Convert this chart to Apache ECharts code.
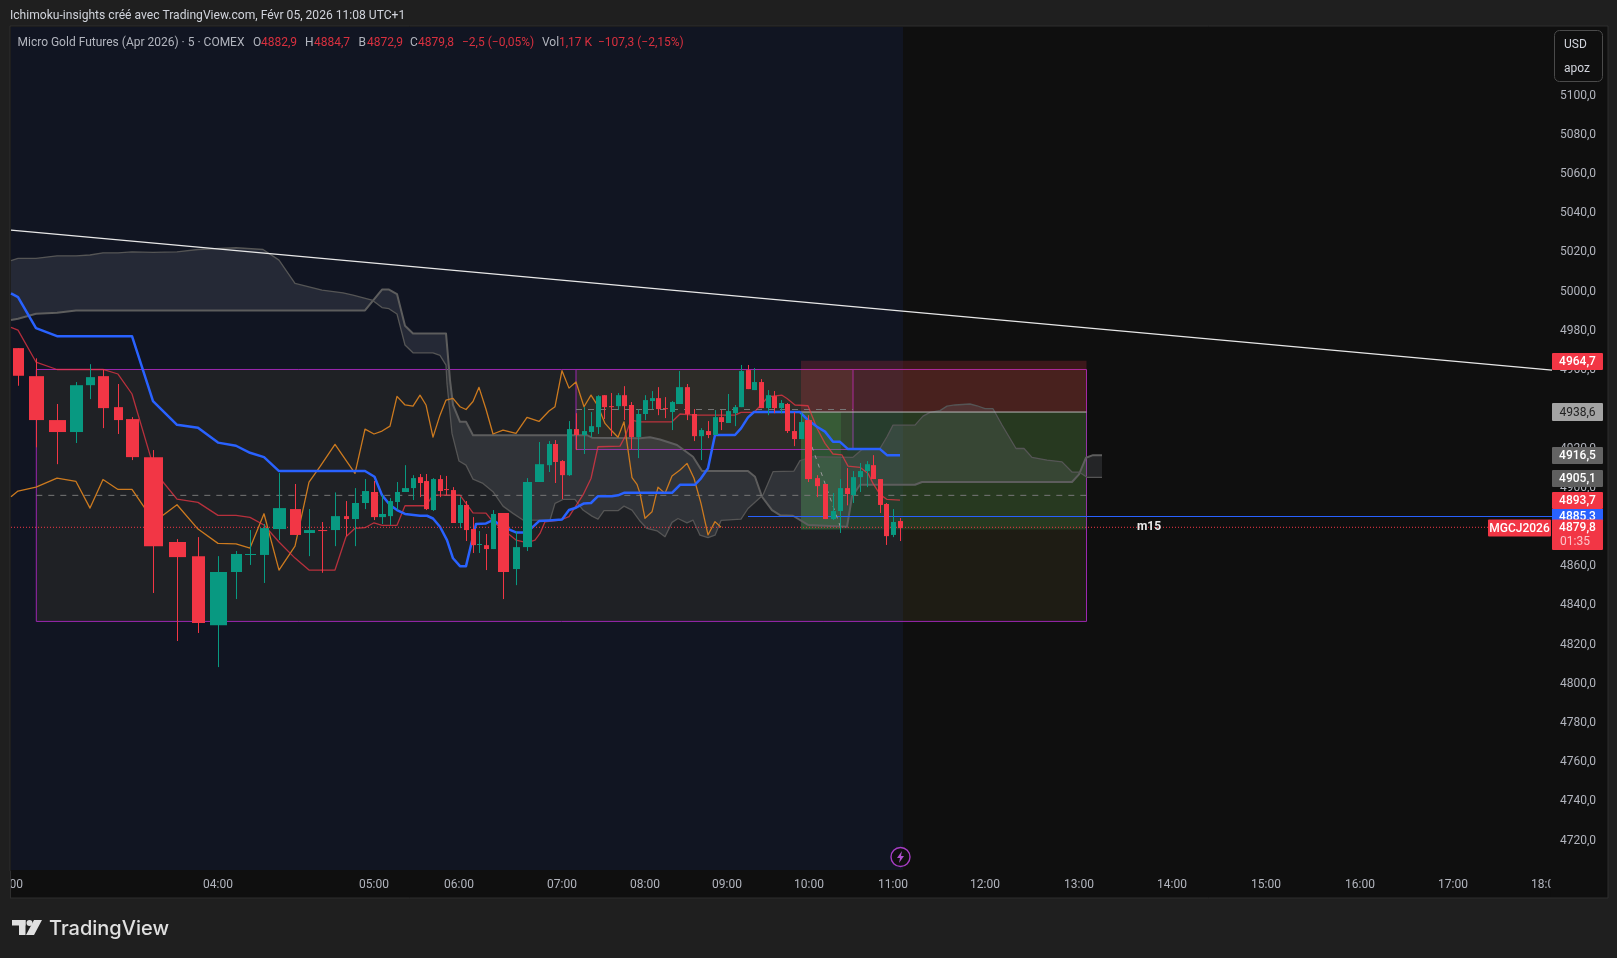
<!DOCTYPE html>
<html><head><meta charset="utf-8">
<style>html,body{margin:0;padding:0;background:#1f1f1f}#c{width:1617px;height:958px}</style>
<script src="https://cdn.jsdelivr.net/npm/echarts@6/dist/echarts.min.js"></script>
</head><body><div id="c"></div>
<script>
// candles: x position on the bar scale, volume-scaled width, open, high, low, close
const candleX=[18.5,36.5,57.5,76.5,90.5,103.5,118.5,132.5,153.5,177.5,198.5,218.5,236.5,250.5,264.5,279.5,295.5,309.5,322.7,335.5,346.5,355.5,365.5,374.5,382.5,390.5,397.5,405.5,413.5,420.5,426.5,433.5,440.5,446.5,453.5,460.5,466.5,473.5,479.5,486.5,493.5,503.5,516.5,527.5,539.5,549.5,555.5,562.5,569.5,576.5,584.5,591.5,598.5,604.5,611.5,618.5,624.5,631.5,638.7,645.5,652.5,658.5,665.5,672.5,679.5,687.5,694.5,701.5,708.5,715.5,721.5,728.5,735.5,741.5,748.5,754.5,761.5,768.5,774.5,781.5,787.5,794.5,801.5,808.5,817.5,825.5,833.5,840.5,847.5,853.5,860.5,867.5,873.5,880.5,886.5,893.5,900.5];
const candleW=[11,15,17,13,9,11,9,13,19,17,13,17,11,11,9,13,11,11,9,9,5,7,7,7,7,5,5,7,5,5,5,5,5,5,5,5,5,5,5,5,5,11,7,9,9,5,5,5,5,5,5,5,5,5,5,5,5,5,5,5,5,5,5,5,7,5,5,5,5,5,5,5,5,5,5,5,5,5,5,5,5,5,5,7,5,5,5,5,5,5,5,5,5,5,5,5,5];
const candleTop=[4971.2,4956.9,4934.5,4952.3,4956.4,4956.9,4941.1,4935,4915.6,4872.3,4865.1,4857,4866.2,4866.2,4879.4,4889.6,4889.1,4878.4,4878.4,4885.5,4885.5,4892.2,4898.3,4897.8,4886.6,4893.2,4897.8,4899.8,4904.9,4905.4,4903.4,4904.4,4904.4,4899.3,4898.8,4891.2,4891.2,4878.9,4871.3,4870.7,4886.6,4887.1,4869.7,4902.9,4912,4922.3,4922.3,4913.6,4929.9,4929.9,4928.9,4931.4,4946.7,4947.2,4941.6,4947.2,4947.2,4942.2,4937.6,4944.7,4945.7,4945.7,4940.6,4943.7,4951.3,4951.3,4937.6,4929.4,4928.9,4936,4936,4939.1,4941.1,4959.5,4960,4953.9,4953.9,4947.2,4946.7,4943.2,4942.7,4928.9,4933.5,4934.5,4904.9,4901.9,4888.1,4899.8,4899.8,4905.4,4908.5,4912,4911.5,4904.4,4891.7,4882.5,4883];
const candleBottom=[4957.1,4934.5,4928.4,4928.4,4952.3,4940.6,4934.5,4915.6,4870.2,4864.6,4831,4829.9,4857,4865.7,4865.7,4878.9,4875.9,4876.9,4878,4878.4,4884,4884,4892.2,4885,4885,4885.5,4892.7,4897.8,4899.8,4902.4,4889.1,4888.6,4898.3,4899,4882,4882,4878.4,4870.7,4870.8,4868.7,4868.7,4857,4858.5,4869.7,4902.9,4911.5,4913.1,4906.4,4906.4,4926.9,4926.9,4928.4,4930.9,4941.1,4941.1,4941.6,4941.6,4925.8,4925.8,4937.6,4944.2,4940.1,4940.1,4938.6,4942.7,4937.6,4926.3,4926.3,4926.9,4926.9,4933.5,4933,4938,4941.1,4950.3,4949.8,4940.6,4940.6,4940.6,4940.6,4928.9,4924.8,4924.8,4904.4,4900.8,4884,4884,4888.1,4896.8,4896.2,4905.4,4908.5,4904.4,4891.2,4875.3,4875.9,4879.4];
const candleHigh=[4971.2,4966,4942.7,4953.9,4963,4960.3,4952.9,4936,4919.2,4873.8,4874.8,4865.1,4867.7,4878.4,4881.5,4907.5,4901.9,4889.1,4882.5,4897.6,4893.2,4899.8,4904.4,4903.4,4896.2,4894.7,4902.9,4911.5,4906.4,4907,4907,4904.9,4906.4,4906,4900.3,4895.2,4893.2,4885,4877.9,4876.4,4888.6,4887.1,4877.9,4904.9,4923.3,4923.8,4924.3,4914.1,4934,4938,4941.1,4938.6,4947.2,4947.2,4948.3,4948.3,4951.8,4943.7,4940,4947.2,4949.3,4951.3,4946.2,4944.2,4959.5,4952.9,4940.1,4930.4,4934,4939.6,4939.6,4947.8,4942.2,4962.6,4962.6,4961,4955.4,4949.8,4949.3,4944.7,4943.2,4938.6,4938,4937,4906.4,4901.9,4897.3,4904.4,4910,4908.5,4912.6,4913.6,4916.6,4904.4,4892.2,4889.1,4884.5];
const candleLow=[4952,4920.6,4912,4922.8,4945.2,4930.4,4927.4,4914.1,4846.3,4821.8,4825.9,4808.5,4843.2,4860.6,4851.4,4873.3,4875.9,4865.1,4856.6,4870.2,4875.3,4870.2,4889.1,4883.5,4881.5,4881,4888.6,4897.8,4893.7,4895.2,4888.6,4888.1,4895.2,4896.2,4882,4879.4,4872.8,4866.7,4866.7,4858,4868.7,4843.2,4850.3,4867.7,4902.9,4908,4902.4,4894.2,4906,4919.2,4917.2,4925.8,4927.4,4935,4926.3,4939.6,4934.5,4919.7,4915.1,4934.5,4940.1,4937,4935.5,4929.4,4942.7,4934.5,4923.8,4914.1,4925.3,4926.9,4929.4,4933,4931.4,4941.1,4950.3,4949.8,4940.6,4937,4938,4938,4927.9,4921.2,4924.8,4902.9,4895.2,4884,4883.5,4876.9,4891,4892.2,4897.8,4900.3,4904.4,4887.1,4870.8,4874.8,4872.8];
const candleUp=[0,0,0,1,1,0,0,0,0,0,0,1,1,1,1,1,0,1,0,1,0,1,1,0,1,1,1,1,1,0,0,1,0,0,0,1,0,0,1,0,1,0,1,1,1,1,0,0,1,0,1,1,1,0,0,1,0,0,1,1,1,0,0,1,1,0,0,1,0,1,0,1,1,1,0,1,0,1,0,1,0,0,1,0,0,0,1,1,0,1,1,1,0,0,0,1,0];

// ichimoku lines as [bar position, price]
const kijun=[[11,4999.1],[18,4997.2],[36,4981.4],[57,4977.3],[132,4977.3],[153,4944.2],[177,4932.1],[198,4930.6],[218,4923],[236,4921.4],[250,4917.8],[264,4915.6],[279,4908.5],[365,4908.5],[374.5,4905.6],[382,4896.2],[390,4891.2],[397,4888.6],[405,4886.6],[420,4885.7],[427,4885.7],[433,4884.3],[440,4880.1],[447,4873.3],[453,4864],[460,4860],[466,4860],[476,4881.5],[486,4881.8],[493,4883.5],[503,4880],[516,4877.2],[527,4877.2],[539,4883],[549,4883.3],[562,4883.8],[569,4888.6],[576,4889.8],[584,4892],[591,4892.2],[598,4895.7],[612,4895.7],[618,4896.1],[624,4897.4],[672,4897.4],[680,4901.5],[695,4901.5],[701,4904.8],[708,4909.9],[715,4926.9],[735,4926.9],[741,4930.3],[748,4935.9],[754,4938.6],[800,4938.6],[808,4934.5],[817,4931.1],[825,4928.6],[833,4923.4],[840,4923.4],[848,4919.7],[880,4919.7],[887,4916.6],[900,4916.6]];
const tenkan=[[11,4981.8],[18,4980.4],[36,4964.1],[57,4960.3],[103,4960.3],[118,4958],[132,4947.8],[153,4911.5],[163,4902.9],[177,4894.2],[198,4892.5],[218,4885.9],[236,4885.9],[250,4884.9],[264,4881],[279,4872.3],[295,4864.1],[309,4858],[335,4858],[346,4875],[355,4879.3],[365,4879.6],[374,4882.1],[382,4880.8],[397,4880.8],[405,4890.8],[426,4890.8],[433,4896.2],[460,4896.2],[466,4892],[473,4887.2],[486,4887],[493,4882.6],[503,4878.7],[516,4873.3],[527,4872],[535,4873.3],[540,4876.7],[545,4882.6],[560,4883.5],[569,4885.2],[583,4896.3],[591,4904.7],[598,4920.9],[620,4921.2],[625,4926],[631,4934.5],[640,4933.6],[672,4933.6],[680,4937.6],[695,4937],[735,4937],[741,4938.4],[754,4938.4],[761,4942.2],[768,4946.4],[782,4947.2],[787,4945.5],[795,4942.2],[808,4941.8],[817,4930.3],[825,4922.6],[833,4917.2],[842,4916.7],[848,4911],[860,4910.4],[868,4907.3],[873,4902.2],[880,4896.6],[887,4894],[900,4893.7]];
const chikou=[[11,4895.4],[18,4898.3],[36,4900.3],[57,4904.9],[76,4903.2],[90,4889.6],[103,4904.2],[118,4899.1],[132,4899.1],[145,4889.4],[163,4886],[177,4891.3],[198,4878.9],[218,4871.6],[236,4871.3],[250,4869.2],[264,4886.7],[279,4858],[295,4870.2],[309,4902.9],[320,4910.7],[335,4922.1],[355,4907.3],[365,4929.9],[374,4927.4],[382,4928.9],[390,4931.4],[397,4946.6],[405,4942.2],[413,4941.6],[420,4947.2],[426,4942.2],[433,4925.8],[440,4937],[446,4944.7],[453,4945.6],[460,4941.3],[466,4939.9],[473,4944],[479,4951.2],[486,4940],[493,4927.4],[503,4929.4],[516,4927.7],[527,4935.9],[539,4933.8],[549,4939.1],[555,4941.3],[562,4959.7],[569,4950.8],[576,4953.9],[584,4941.3],[591,4947.2],[598,4941.6],[605,4932.8],[611,4929.4],[618,4925.7],[624,4933.6],[632,4905.1],[637,4901.7],[640,4897.1],[645,4884.4],[652,4887.7],[658,4900.3],[665,4897.1],[672,4906],[680,4909],[687,4912.4],[694,4904.8],[701,4892],[708,4875.9],[715,4882.7],[721,4879.8]];
const spanA=[[11,4985.5],[18,4986.2],[36,4988.7],[57,4989.2],[76,4990.4],[365,4990.4],[382,5001.1],[389,5001.1],[397,4998.8],[405,4982.6],[413,4978.7],[446,4978.7],[450,4954.9],[453,4942.2],[460,4933.6],[466,4933.6],[473,4926.8],[587,4926.8],[592,4925.5],[640,4925.2],[650,4925.7],[660,4924.6],[677,4921.8],[693,4915.8],[702,4908.5],[748,4908.5],[755,4905.6],[762,4895.4],[772,4888.6],[780,4886],[793,4885.7],[808,4881],[847,4880.1],[852,4895.4],[860,4901.5],[915,4901.5],[922,4902.9],[1072,4902.9],[1079,4906.8],[1086,4915.3],[1093,4916.6],[1102,4916.6]];
const spanB=[[11,5015.8],[18,5017],[36,5017],[57,5018.3],[76,5018.3],[90,5018.7],[103,5019.8],[118,5019.8],[132,5020.3],[153,5020],[177,5020.3],[198,5021.5],[236,5022.4],[263,5021.5],[279,5016.1],[295,5004.2],[322,5000.8],[343,4999.4],[353,4998.2],[372,4995.7],[382,4991.9],[389,4991.3],[397,4988.6],[405,4972.8],[413,4968.8],[433,4968.8],[440,4967.5],[446,4962.5],[447,4953.2],[452,4927.7],[459,4913.6],[466,4911.5],[473,4904.4],[483,4902.2],[493,4898],[503,4890.6],[513,4886.9],[523,4883.5],[550,4883.5],[555,4892],[563,4894],[575,4894],[583,4888.6],[592,4885.5],[598,4884],[604,4888.3],[618,4888.3],[624,4890.6],[632,4888.6],[640,4883],[647,4879.2],[657,4878],[665,4875],[672,4882.3],[678,4884.3],[687,4882.1],[693,4883.5],[700,4875.8],[708,4874.5],[715,4875.8],[721,4883.3],[741,4884],[748,4889.4],[763,4896.3],[773,4908.2],[794,4908.5],[800,4913.8],[813,4915.8],[853,4915.5],[862,4919.5],[880,4920],[887,4926],[893,4931.9],[915,4931.9],[923,4936.5],[930,4938.4],[940,4939.3],[947,4941.6],[955,4942.2],[970,4942.7],[977,4941.8],[985,4940.3],[993,4940.3],[1002,4932],[1016,4920],[1024,4920],[1032,4915.5],[1047,4914.1],[1062,4913.2],[1072,4908],[1079,4908],[1087,4905.3],[1102,4905.3]];

// drawings
const trendLine=[[11,5031.4],[1552,4960]];
const lastPrice=[[11,4879.8],[1488,4879.8]];
const m15Line=[[748,4885.3],[1552,4885.3]];
const entryLine=[[801,4938.6],[1086.5,4938.6]];
const bigMid=[[36.3,4896.1],[1086.5,4896.1]];
const innerMid=[[576,4939.9],[853,4939.9]];
const tradePath=[[812,4920.9],[841,4879.2]];
// zones: left, right, top price, bottom price
const sessionZone=[11,903,5135,4705];
const bigBox=[36.3,1086.5,4960.3,4831.8];
const innerBox=[576,853,4960.3,4919.5];
const stopZone=[801,1086.5,4964.7,4938.6];
const targetZone=[801,1086.5,4938.6,4878.7];
const targetZoneNear=[801,841,4938.6,4878.7];

const yTicks=[5100,5080,5060,5040,5020,5000,4980,4960,4940,4920,4900,4880,4860,4840,4820,4800,4780,4760,4740,4720];
const timeLabels=['04:00','05:00','06:00','07:00','08:00','09:00','10:00','11:00','12:00','13:00','14:00','15:00','16:00','17:00'];
const timeAt=[218,374,459,562,645,727,809,893,985,1079,1172,1266,1360,1453];

const FONT='Roboto, "Liberation Sans", sans-serif';
const RED='#f23645',GREEN='#089981',BLUE='#2962ff',PURPLE='#9c27b0';

function zoneSeries(z,fill,stroke){
  return {type:'custom',z:z,silent:true,clip:true,data:[z],
    renderItem(p,api){
      const a=api.coord([z[0],z[2]]),b=api.coord([z[1],z[3]]);
      return {type:'rect',shape:{x:a[0],y:a[1],width:b[0]-a[0],height:b[1]-a[1]},
        style:{fill:fill,stroke:stroke||null,lineWidth:stroke?1:0}};
    },encode:{x:[0,1],y:[2,3]},zlevel:0};
}
function lineSeries(name,data,color,width,type,z){
  return {type:'line',name,data,z:z,silent:true,showSymbol:false,symbol:'none',animation:false,
    lineStyle:{color,width,type:type||'solid',join:'round'},clip:true};
}
const cloudSeries={type:'custom',z:2,silent:true,data:[[11,4900]],
  renderItem(p,api){
    const pts=spanA.concat(spanB.slice().reverse()).map(d=>api.coord(d));
    return {type:'polygon',shape:{points:pts},style:{fill:'rgba(120,123,134,0.2)',stroke:null}};
  }};
const candleSeries={type:'custom',z:10,silent:true,
  data:candleX.map((x,i)=>[x,candleW[i],candleTop[i],candleBottom[i],candleHigh[i],candleLow[i],candleUp[i]]),
  encode:{x:0,y:[2,3,4,5]},
  renderItem(p,api){
    const x=api.value(0),w=api.value(1),c=api.value(6)?GREEN:RED;
    const t=api.coord([x,api.value(2)]),b=api.coord([x,api.value(3)]);
    const h=api.coord([x,api.value(4)]),l=api.coord([x,api.value(5)]);
    const pw=api.size([w,0])[0],cx=Math.round(t[0]-0.5)+0.5;
    return {type:'group',children:[
      {type:'line',shape:{x1:cx,y1:h[1],x2:cx,y2:l[1]},style:{stroke:c,lineWidth:1}},
      {type:'rect',shape:{x:t[0]-pw/2,y:t[1],width:pw,height:Math.max(1,b[1]-t[1])},style:{fill:c}}
    ]};
  }};

const T=(text,x,y,o)=>Object.assign({type:'text',x,y,z:50,style:Object.assign({text,fill:'#b2b5be',font:'12px '+FONT,textVerticalAlign:'middle'},o||{})},{});
const W='500 12px '+FONT;
const tag=(text,y0,y1,bg,fg,font)=>[
  {type:'rect',z:40,shape:{x:1552,y:y0,width:51,height:y1-y0,r:1},style:{fill:bg}},
  {type:'text',z:41,x:1577.5,y:(y0+y1)/2+0.5,style:{text,fill:fg,align:'center',verticalAlign:'middle',font:font}}
];
const legendGray='#b2b5be',legendRed='#d8303f';
const legendBits=[['Micro Gold Futures (Apr 2026) · 5 · COMEX',17.5,legendGray],['O',253,legendGray],['4882,9',261,legendRed],['H',305,legendGray],['4884,7',314,legendRed],['B',358.6,legendGray],['4872,9',367,legendRed],['C',410,legendGray],['4879,8',418,legendRed],['−2,5 (−0,05%)',462,legendRed],['Vol',542,legendGray],['1,17 K',559,legendRed],['−107,3 (−2,15%)',598,legendRed]];

const graphics=[
  {type:'rect',z:-5,shape:{x:10,y:26,width:1598,height:872},style:{fill:'#0f0f0f',stroke:'#2e2e2e',lineWidth:1}},
  T('Ichimoku-insights créé avec TradingView.com, Févr 05, 2026 11:08 UTC+1',10,16,{fill:'#d1d4dc',font:'12.1px '+FONT}),
  ...legendBits.map(b=>T(b[0],b[1],43,{fill:b[2]})),
  {type:'rect',z:40,shape:{x:1554.5,y:30.5,width:48,height:51,r:5},style:{fill:'#0f0f0f',stroke:'#4a4a4a',lineWidth:1}},
  T('USD',1564,44.5,{fill:'#d1d4dc'}),T('apoz',1564,68.5,{fill:'#d1d4dc'}),
  ...tag('4964,7',353,370,RED,'#fff',W),
  ...tag('4938,6',403,421,'#a3a3a3','#222','12px '+FONT),
  ...tag('4916,5',447,464,'#636363','#fff',W),
  ...tag('4905,1',470,487,'#5f5f5f','#fff',W),
  {type:'rect',z:40,shape:{x:1552,y:509,width:51,height:12},style:{fill:BLUE}},
  {type:'text',z:41,x:1577.5,y:516.5,style:{text:'4885,3',fill:'#fff',align:'center',verticalAlign:'middle',font:W}},
  {type:'rect',z:42,shape:{x:1552,y:492,width:51,height:17,r:1},style:{fill:RED}},
  {type:'text',z:43,x:1577.5,y:500.5,style:{text:'4893,7',fill:'#fff',align:'center',verticalAlign:'middle',font:W}},
  {type:'rect',z:44,shape:{x:1552,y:519.5,width:51,height:30.5,r:1},style:{fill:RED}},
  {type:'text',z:45,x:1577.5,y:528,style:{text:'4879,8',fill:'#fff',align:'center',verticalAlign:'middle',font:W}},
  {type:'text',z:45,x:1575,y:541.5,style:{text:'01:35',fill:'#fbc4c9',align:'center',verticalAlign:'middle',font:'12px '+FONT}},
  {type:'rect',z:44,shape:{x:1488,y:519.5,width:63,height:17,r:1},style:{fill:RED}},
  {type:'text',z:45,x:1519.5,y:528.5,style:{text:'MGCJ2026',fill:'#fff',align:'center',verticalAlign:'middle',font:W}},
  {type:'text',z:45,x:1149,y:527,style:{text:'m15',fill:'#e8e8e8',align:'center',verticalAlign:'middle',font:'bold 12px '+FONT}},
  {type:'text',z:5,x:8,y:885,style:{text:'03:00',fill:'#b2b5be',align:'center',verticalAlign:'middle',font:'12px '+FONT}},
  {type:'text',z:5,x:1546,y:885,style:{text:'18:00',fill:'#b2b5be',align:'center',verticalAlign:'middle',font:'12px '+FONT}},
  {type:'rect',z:6,shape:{x:0,y:871,width:10,height:27},style:{fill:'#1f1f1f'}},
  {type:'rect',z:6,shape:{x:10,y:871,width:1,height:27},style:{fill:'#2e2e2e'}},
  {type:'rect',z:6,shape:{x:1550.5,y:871,width:56,height:26},style:{fill:'#0f0f0f'}},
  {type:'circle',z:30,shape:{cx:900.5,cy:857,r:9.5},style:{fill:'#0f0f0f',stroke:'#a63dc4',lineWidth:1.4}},
  {type:'polygon',z:31,shape:{points:[[902,851],[897,858],[900,858],[899,863],[904,856],[901,856]]},style:{fill:'#b04fd0'}},
  {type:'rect',z:20,shape:{x:12,y:920,width:13.5,height:5.5},style:{fill:'#e0e0e0'}},
  {type:'rect',z:20,shape:{x:19,y:920,width:6.5,height:15},style:{fill:'#e0e0e0'}},
  {type:'circle',z:20,shape:{cx:29.5,cy:923,r:3},style:{fill:'#e0e0e0'}},
  {type:'polygon',z:20,shape:{points:[[34,920],[42,920],[34,935],[26,935]]},style:{fill:'#e0e0e0'}},
  {type:'text',z:20,x:49,y:928.5,style:{text:'TradingView',fill:'#e0e0e0',verticalAlign:'middle',font:'500 20px Inter, sans-serif'}}
];

const chart=echarts.init(document.getElementById('c'),null,{renderer:'canvas'});
chart.setOption({
  animation:false,backgroundColor:'#1f1f1f',
  grid:{left:11,right:65,top:27,bottom:88,containLabel:false},
  xAxis:{type:'value',min:11,max:1552,axisLine:{show:false},splitLine:{show:false},
    axisTick:{show:false,customValues:timeAt},
    axisLabel:{customValues:timeAt,color:'#b2b5be',fontFamily:FONT,fontSize:12,margin:9,
      formatter:v=>timeLabels[timeAt.indexOf(v)]||''}},
  yAxis:{type:'value',position:'right',min:4705,max:5135,axisLine:{show:false},splitLine:{show:false},
    axisTick:{show:false,customValues:yTicks},
    axisLabel:{customValues:yTicks,color:'#b2b5be',fontFamily:FONT,fontSize:12,margin:8,
      formatter:v=>v.toFixed(1).replace('.',',')}},
  graphic:graphics,
  series:[
    zoneSeries(sessionZone,'#111522'),
    cloudSeries,
    lineSeries('spanA',spanA,'#5d5d5d',2,'solid',3),
    lineSeries('spanB',spanB,'#555555',1.3,'solid',3),
    zoneSeries(bigBox,'rgba(255,223,95,0.0625)',PURPLE),
    zoneSeries(innerBox,'rgba(255,223,95,0.0625)',PURPLE),
    zoneSeries(stopZone,'rgba(242,54,69,0.2)'),
    zoneSeries(targetZone,'rgba(76,175,80,0.2)'),
    zoneSeries(targetZoneNear,'rgba(76,175,80,0.2)'),
    lineSeries('bigMid',bigMid,'#777777',1,[6,6],5),
    lineSeries('innerMid',innerMid,'#777777',1,[6,6],5),
    lineSeries('entry',entryLine,'#b8b8b8',1,'solid',5),
    lineSeries('chikou',chikou,'#cc7a1f',1.3,'solid',6),
    lineSeries('tenkan',tenkan,'rgba(242,54,69,0.72)',1.3,'solid',6),
    lineSeries('kijun',kijun,BLUE,2.5,'solid',6),
    lineSeries('m15',m15Line,BLUE,1,'solid',6),
    lineSeries('last',lastPrice,RED,1,[1,2],7),
    lineSeries('trade',tradePath,'#9a9a9a',1,[4,5],7),
    candleSeries,
    lineSeries('trend',trendLine,'#e8e8e8',1.4,'solid',12)
  ]
});
</script></body></html>
